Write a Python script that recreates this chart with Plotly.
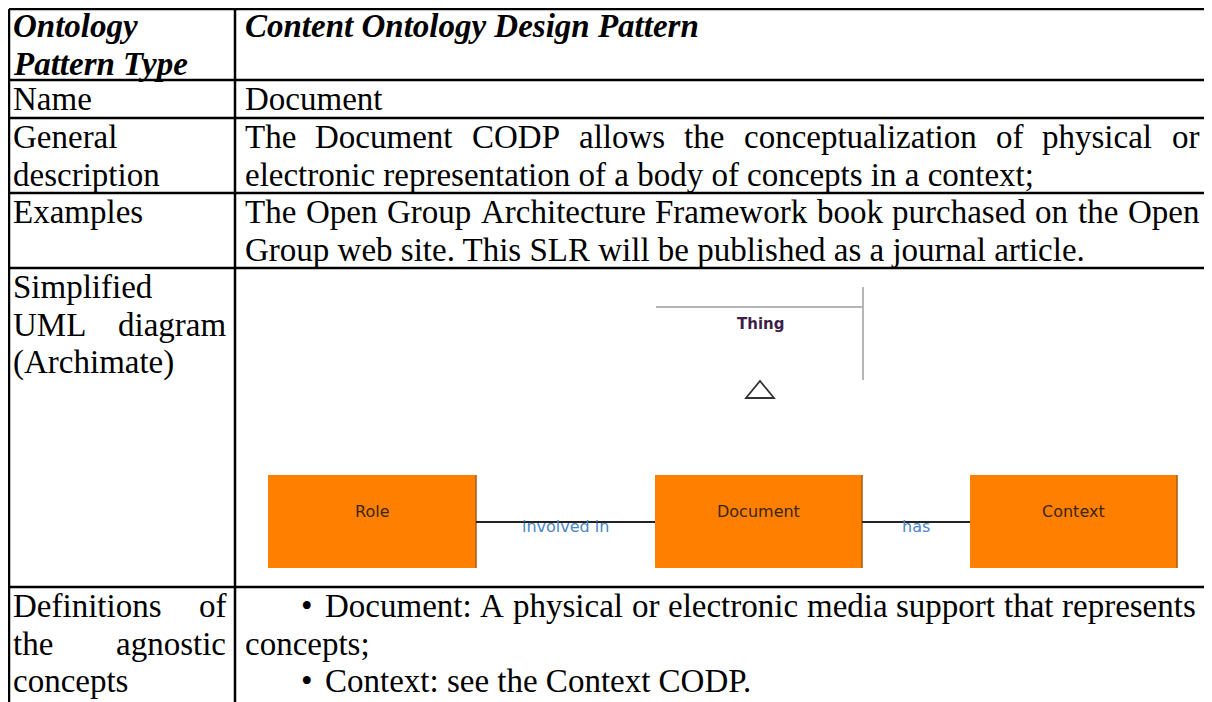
import plotly.graph_objects as go

# ---------------- data ----------------
ROW_LABELS = [
    ["Ontology", "Pattern Type"],
    ["Name"],
    ["General", "description"],
    ["Examples"],
    ["Simplified", "UML diagram", "(Archimate)"],
    ["Definitions of", "the agnostic", "concepts"],
]
ROW_CONTENT = [
    ["Content Ontology Design Pattern"],
    ["Document"],
    ["The Document CODP allows the conceptualization of physical or",
     "electronic representation of a body of concepts in a context;"],
    ["The Open Group Architecture Framework book purchased on the Open",
     "Group web site. This SLR will be published as a journal article."],
    [],
    ["Document: A physical or electronic media support that represents",
     "concepts;",
     "Context: see the Context CODP."],
]
RIGHT_BULLET = [[0], [0], [0, 0], [0, 0], [], [1, 0, 1]]

DIAGRAM_PARENT = "Thing"
DIAGRAM_NODES = ["Role", "Document", "Context"]
DIAGRAM_LINKS = [("Role", "Document", "involved in"), ("Document", "Context", "has")]

# ---------------- layout / style ----------------
W, H = 1212, 702
OFF = 8                       # compensates the page's default body margin
TX0, TX1, COLX = 9, 1207, 235
TOP = 9
ROW_EDGES = [TOP, 80, 118, 193, 268, 587, 760]
FIRST = [17, 19, 19, 19, 19, 19]
LINE_H = 37.5
FS = 33
SERIF = "Liberation Serif, Times New Roman, serif"
SANS = "DejaVu Sans, Verdana, sans-serif"
LX0, LX1 = 13, 226
RX0 = 245
BUL_X, IND_X = 301, 325
LEFT_JUST = [[0, 0], [0], [0, 0], [0], [0, 1, 0], [1, 1, 0]]
RIGHT_JUST = [[0], [0], [1, 0], [1, 0], [], [1, 0, 0]]
RIGHT_X1 = 1199
BULLET_X1 = 1196

NODE_X = {"Role": (268, 476), "Document": (655, 862), "Context": (970, 1177)}
NODE_Y = (475, 568)
LINK_Y = 522
THING_X = (656, 863)
THING_HLINE_Y = 307
THING_VLINE = (287, 380)
THING_TEXT_Y = 324
TRI = (760, 381, 14, 17)
ORANGE = "#FF8000"

# Times New Roman advance widths (1/1000 em); Liberation Serif is metric compatible
TW = {' ': 250, '(': 333, ')': 333, ',': 250, '-': 333, '.': 250, ':': 278, ';': 278,
      'A': 722, 'B': 667, 'C': 667, 'D': 722, 'E': 611, 'F': 556, 'G': 722, 'H': 722, 'I': 333,
      'J': 389, 'K': 722, 'L': 611, 'M': 889, 'N': 722, 'O': 722, 'P': 556, 'Q': 722, 'R': 667,
      'S': 556, 'T': 611, 'U': 722, 'V': 722, 'W': 944, 'X': 722, 'Y': 722, 'Z': 611,
      'a': 444, 'b': 500, 'c': 444, 'd': 500, 'e': 444, 'f': 333, 'g': 500, 'h': 500, 'i': 278,
      'j': 278, 'k': 500, 'l': 278, 'm': 778, 'n': 500, 'o': 500, 'p': 500, 'q': 500, 'r': 333,
      's': 389, 't': 278, 'u': 500, 'v': 500, 'w': 722, 'x': 500, 'y': 500, 'z': 444}


def tw(s):
    return sum(TW.get(c, 500) for c in s) * FS / 1000.0


fig = go.Figure()
fig.add_trace(go.Scatter(x=[OFF, W + OFF], y=[OFF, H + OFF], mode="markers",
                         marker=dict(opacity=0), hoverinfo="skip", showlegend=False))

shapes = []
ann = []


def text(x, y, s, family=SERIF, size=FS, color="black", anchor="left"):
    ann.append(dict(x=x, y=y, xref="x", yref="y", text=s, showarrow=False,
                    xanchor=anchor, yanchor="middle", borderpad=0, borderwidth=0,
                    font=dict(family=family, size=size, color=color)))


def line_text(s, x0, x1, y, just):
    words = s.split(" ")
    if not just or len(words) == 1:
        text(x0, y, s)
        return
    nat = sum(tw(w) for w in words)
    gap = (x1 - x0 - nat) / (len(words) - 1)
    x = x0
    for w in words:
        text(x, y, w)
        x += tw(w) + gap


# table text
for r, labels in enumerate(ROW_LABELS):
    top = ROW_EDGES[r] + FIRST[r]
    for i, s in enumerate(labels):
        y = top + LINE_H * i
        if r == 0:
            text(LX0, y, "<b><i>" + s + "</i></b>")
        else:
            line_text(s, LX0, LX1, y, LEFT_JUST[r][i])
    for i, s in enumerate(ROW_CONTENT[r]):
        y = top + LINE_H * i
        if r == 0:
            text(RX0, y, "<b><i>" + s + "</i></b>")
            continue
        if RIGHT_BULLET[r][i]:
            text(BUL_X, y, "•")
            line_text(s, IND_X, BULLET_X1, y, RIGHT_JUST[r][i])
        else:
            line_text(s, RX0, RIGHT_X1, y, RIGHT_JUST[r][i])

# table grid
LW = 2.5
for yy in ROW_EDGES[:-1]:
    shapes.append(dict(type="line", x0=TX0, x1=TX1, y0=yy, y1=yy, line=dict(color="black", width=LW)))
for xx in (TX0, COLX, TX1):
    shapes.append(dict(type="line", x0=xx, x1=xx, y0=TOP, y1=H + 20,
                       line=dict(color="black", width=LW)))

# diagram: parent "Thing"
shapes.append(dict(type="line", x0=THING_X[0], x1=THING_X[1], y0=THING_HLINE_Y, y1=THING_HLINE_Y,
                   line=dict(color="#b5b5b5", width=2)))
shapes.append(dict(type="line", x0=THING_X[1], x1=THING_X[1], y0=THING_VLINE[0], y1=THING_VLINE[1],
                   line=dict(color="#b5b5b5", width=2)))
text((THING_X[0] + THING_X[1]) / 2 + 1, THING_TEXT_Y, "<b>" + DIAGRAM_PARENT + "</b>", family=SANS,
     size=15, color="#3d1f47", anchor="center")
cx, ty, hw, th = TRI
shapes.append(dict(type="path", path=f"M {cx-hw},{ty+th} L {cx},{ty} L {cx+hw},{ty+th} Z",
                   fillcolor="white", line=dict(color="#333333", width=1.8)))

# link labels (the link line is drawn over their top)
for a, b, lab in DIAGRAM_LINKS:
    xa = NODE_X[a][1]
    xb = NODE_X[b][0]
    text((xa + xb) / 2, LINK_Y + 4, lab, family=SANS, size=16, color="#4a86c8", anchor="center")

# nodes
for n in DIAGRAM_NODES:
    x0, x1 = NODE_X[n]
    shapes.append(dict(type="rect", x0=x0, x1=x1, y0=NODE_Y[0], y1=NODE_Y[1],
                       fillcolor=ORANGE, line=dict(width=0)))
    shapes.append(dict(type="line", x0=x1, x1=x1, y0=NODE_Y[0], y1=NODE_Y[1],
                       line=dict(color="#a85a10", width=1.5)))
    text((x0 + x1) / 2, LINK_Y - 11, n, family=SANS, size=16, color="#3a2600", anchor="center")

# links
for a, b, lab in DIAGRAM_LINKS:
    xa = NODE_X[a][1]
    xb = NODE_X[b][0]
    shapes.append(dict(type="line", x0=xa, x1=xb, y0=LINK_Y, y1=LINK_Y,
                       line=dict(color="#222222", width=2), layer="above"))

fig.update_layout(
    width=W, height=H, margin=dict(l=0, r=0, t=0, b=0),
    paper_bgcolor="white", plot_bgcolor="white",
    xaxis=dict(range=[OFF, W + OFF], visible=False, fixedrange=True),
    yaxis=dict(range=[H + OFF, OFF], visible=False, fixedrange=True),
    shapes=shapes, annotations=ann, showlegend=False,
)
fig.write_html("out.html")
